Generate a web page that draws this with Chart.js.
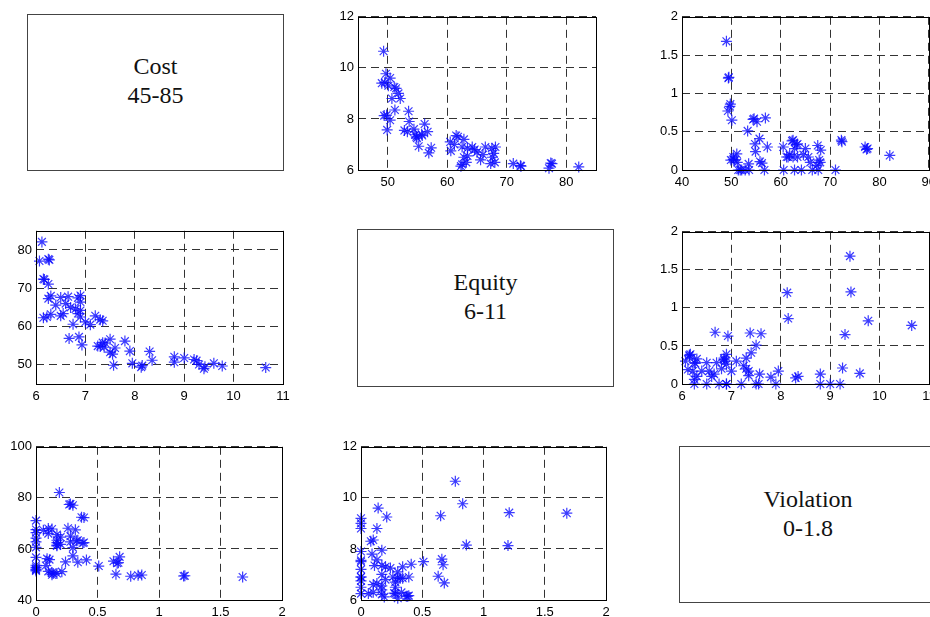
<!DOCTYPE html>
<html>
<head>
<meta charset="utf-8">
<script src="https://cdn.jsdelivr.net/npm/chart.js@4.4.0/dist/chart.umd.min.js"></script>
<style>
  html, body { margin: 0; padding: 0; background: #fff; }
  body { position: relative; width: 930px; height: 617px; overflow: hidden; }
  .panel { position: absolute; }
  .label-box {
    position: absolute; box-sizing: border-box; border: 1px solid #444;
    font-family: "Liberation Serif", "Times New Roman", serif; font-size: 24px;
    color: #111; text-align: center;
  }
  .label-box div { position: absolute; left: 0; right: 0; line-height: 29px; }
</style>
</head>
<body>

<div class="label-box" style="left:27px;top:14px;width:257px;height:157px;">
  <div style="top:37px">Cost</div><div style="top:66px">45-85</div>
</div>
<div class="label-box" style="left:357px;top:229px;width:257px;height:158px;">
  <div style="top:38px">Equity</div><div style="top:67px">6-11</div>
</div>
<div class="label-box" style="left:679px;top:446px;width:258px;height:157px;">
  <div style="top:38px">Violation</div><div style="top:67px">0-1.8</div>
</div>

<script>
// one entry per solution: cost, equity, violation
const cost = [
  82.1, 77.6, 77.1, 72.3, 71.1, 60.5, 61.5, 61.2, 60.6, 62.8,
  62.5, 63.4, 64.2, 65.0, 66.4, 62.8, 62.5, 63.4, 65.6, 67.5,
  67.8, 67.3, 68.1, 62.3, 67.6, 49.0, 49.5, 49.4, 49.8, 49.7,
  49.3, 50.1, 50.4, 51.1, 51.8, 52.1, 50.7, 51.2, 53.5, 50.4,
  49.9, 52.8, 53.3, 54.4, 54.6, 54.8, 56.2, 55.7, 56.7, 55.2,
  56.9, 57.3, 54.9, 55.8, 51.4, 53.6, 61.8, 63.2, 66.0, 64.6,
  68.0, 72.4, 77.4
];
const equity = [
  6.12, 6.25, 6.07, 6.17, 6.25, 7.10, 7.35, 7.00, 6.75, 7.20,
  6.90, 6.85, 6.90, 6.70, 6.90, 6.50, 6.22, 6.55, 6.40, 6.85,
  6.65, 6.25, 6.90, 6.15, 6.50, 9.40, 9.42, 8.13, 8.15, 9.77,
  10.65, 9.30, 9.60, 9.25, 9.00, 8.80, 8.80, 8.35, 8.30, 7.95,
  7.57, 7.55, 7.50, 7.60, 7.38, 7.30, 7.80, 7.40, 7.50, 6.93,
  6.67, 6.87, 7.25, 7.35, 9.20, 7.90, 7.30, 6.30, 6.60, 6.80,
  6.30, 6.15, 6.27
];
const violation = [
  0.19, 0.28, 0.30, 0.39, 0.00, 0.30, 0.17, 0.17, 0.00, 0.00,
  0.39, 0.34, 0.00, 0.28, 0.00, 0.28, 0.17, 0.17, 0.17, 0.32,
  0.13, 0.06, 0.26, 0.38, 0.00, 1.68, 1.21, 1.20, 0.86, 0.83,
  0.77, 0.65, 0.14, 0.21, 0.00, 0.00, 0.13, 0.10, 0.08, 0.17,
  0.13, 0.00, 0.51, 0.66, 0.67, 0.34, 0.09, 0.41, 0.00, 0.63,
  0.68, 0.30, 0.24, 0.11, 0.00, 0.00, 0.20, 0.33, 0.10, 0.20,
  0.10, 0.37, 0.27
];

const costTicksA = [50, 60, 70, 80];
const costTicksB = [40, 50, 60, 70, 80, 90];
const costTicksC = [40, 60, 80, 100];
const equityTicksX = [6, 7, 8, 9, 10, 11];
const equityTicksY = [6, 8, 10, 12];
const violationTicks = [0, 0.5, 1, 1.5, 2];

const panels = [
  { x: cost, y: equity, xr: [45, 85], xt: costTicksA, yr: [6, 12], yt: equityTicksY, box: [358, 15, 596, 170] },
  { x: cost, y: violation, xr: [40, 90], xt: costTicksB, yr: [0, 2], yt: violationTicks, box: [682, 15, 929, 170] },
  { x: equity, y: cost, xr: [6, 11], xt: equityTicksX, yr: [45, 85], yt: costTicksA, box: [36, 229, 283, 384] },
  { x: equity, y: violation, xr: [6, 11], xt: equityTicksX, yr: [0, 2], yt: violationTicks, box: [682, 230, 929, 384] },
  { x: violation, y: cost, xr: [0, 2], xt: violationTicks, yr: [40, 100], yt: costTicksC, box: [36, 445, 282, 600] },
  { x: violation, y: equity, xr: [0, 2], xt: violationTicks, yr: [6, 12], yt: equityTicksY, box: [361, 445, 606, 600] }
];

// solid frame round the plot area, like a matlab axes box
const frame = {
  id: 'frame',
  afterDraw(chart) {
    const a = chart.chartArea, ctx = chart.ctx;
    ctx.save();
    ctx.strokeStyle = '#000';
    ctx.lineWidth = 1;
    ctx.setLineDash([]);
    ctx.strokeRect(Math.round(a.left) + 0.5, Math.round(a.top) + 0.5,
                   Math.round(a.right - a.left), Math.round(a.bottom - a.top));
    ctx.restore();
  }
};

const LEFT = 40, TOP = 10, RIGHT = 12, BOTTOM = 25;

function axis(range, ticks, isX) {
  return {
    type: 'linear',
    min: range[0],
    max: range[1],
    afterBuildTicks: s => { s.ticks = ticks.map(v => ({ value: v })); },
    afterFit: s => { if (isX) s.height = BOTTOM; else s.width = LEFT; },
    ticks: {
      color: '#000',
      padding: isX ? 5 : 4,
      autoSkip: false,
      maxRotation: 0,
      font: { family: '"Liberation Sans", Arial, sans-serif', size: 13 },
      callback: v => String(v)
    },
    grid: { color: '#333', lineWidth: 1, drawTicks: false },
    border: { display: false, dash: [8, 5] }
  };
}

panels.forEach(p => {
  const [l, t, r, b] = p.box;
  const w = r - l + LEFT + RIGHT, h = b - t + TOP + BOTTOM;
  const wrap = document.createElement('div');
  wrap.className = 'panel';
  wrap.style.left = (l - LEFT) + 'px';
  wrap.style.top = (t - TOP) + 'px';
  const canvas = document.createElement('canvas');
  canvas.width = w;
  canvas.height = h;
  wrap.appendChild(canvas);
  document.body.appendChild(wrap);

  new Chart(canvas, {
    type: 'scatter',
    data: {
      datasets: [{
        data: p.x.map((v, i) => ({ x: v, y: p.y[i] })),
        pointStyle: 'star',
        pointRadius: 5.5,
        borderColor: 'rgba(10, 10, 255, 0.8)',
        backgroundColor: 'rgba(10, 10, 255, 0.8)',
        borderWidth: 1.2,
        clip: false
      }]
    },
    options: {
      responsive: false,
      devicePixelRatio: 1,
      animation: false,
      layout: { padding: { left: 0, top: TOP, right: RIGHT, bottom: 0 } },
      plugins: { legend: { display: false }, tooltip: { enabled: false } },
      scales: { x: axis(p.xr, p.xt, true), y: axis(p.yr, p.yt, false) }
    },
    plugins: [frame]
  });
});
</script>
</body>
</html>
